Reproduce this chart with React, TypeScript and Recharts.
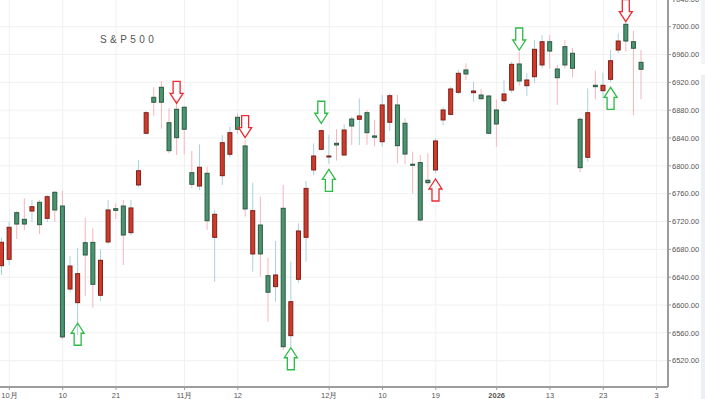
import React from 'react';
import { ComposedChart, Bar, XAxis, YAxis, CartesianGrid } from 'recharts';

// Trading days (last three are empty slots that extend the axis)
const dates = [
  '2025-09-30',
  '2025-10-01', '2025-10-02', '2025-10-03', '2025-10-06', '2025-10-07', '2025-10-08', '2025-10-09', '2025-10-10',
  '2025-10-13', '2025-10-14', '2025-10-15', '2025-10-16', '2025-10-17', '2025-10-20', '2025-10-21', '2025-10-22',
  '2025-10-23', '2025-10-24', '2025-10-27', '2025-10-28', '2025-10-29', '2025-10-30', '2025-10-31',
  '2025-11-03', '2025-11-04', '2025-11-05', '2025-11-06', '2025-11-07', '2025-11-10', '2025-11-11', '2025-11-12',
  '2025-11-13', '2025-11-14', '2025-11-17', '2025-11-18', '2025-11-19', '2025-11-20', '2025-11-21', '2025-11-24',
  '2025-11-25', '2025-11-26', '2025-11-28',
  '2025-12-01', '2025-12-02', '2025-12-03', '2025-12-04', '2025-12-05', '2025-12-08', '2025-12-09', '2025-12-10',
  '2025-12-11', '2025-12-12', '2025-12-15', '2025-12-16', '2025-12-17', '2025-12-18', '2025-12-19', '2025-12-22',
  '2025-12-23', '2025-12-24', '2025-12-26', '2025-12-29', '2025-12-30', '2025-12-31',
  '2026-01-02', '2026-01-05', '2026-01-06', '2026-01-07', '2026-01-08', '2026-01-09', '2026-01-12', '2026-01-13',
  '2026-01-14', '2026-01-15', '2026-01-16', '2026-01-20', '2026-01-21', '2026-01-22', '2026-01-23', '2026-01-26',
  '2026-01-27', '2026-01-28', '2026-01-29', '2026-01-30',
  '2026-02-02', '2026-02-03', '2026-02-04',
];

const opens = [
  6656.5,
  6665.7, 6732.7, 6723.2, 6735.1, 6747.6, 6724.6, 6762.0, 6742.3,
  6623.0, 6603.4, 6689.6, 6690.0, 6614.0, 6690.6, 6738.5, 6742.3,
  6704.0, 6772.5, 6846.8, 6898.5, 6912.9, 6862.0, 6881.3,
  6884.2, 6790.2, 6771.0, 6789.3, 6697.3, 6785.9, 6816.6, 6869.8,
  6828.6, 6673.4, 6715.0, 6642.2, 6626.4, 6739.0, 6556.0, 6637.0,
  6697.3, 6794.1, 6823.8,
  6813.2, 6832.4, 6815.6, 6867.3, 6866.9, 6876.4, 6843.0, 6834.7,
  6862.6, 6887.5, 6861.2, 6802.3, 6804.7, 6779.3, 6794.1, 6866.0,
  6874.0, 6905.7, 6937.8, 6905.2, 6901.8, 6900.4,
  6880.3, 6893.7, 6909.0, 6946.4, 6915.2, 6928.1, 6945.0, 6978.4,
  6939.2, 6971.3, 6961.8, 6866.9, 6812.3, 6915.8, 6908.0, 6924.4,
  6966.5, 7003.4, 6978.4, 6948.8,
];
const highs = [
  6697.0,
  6719.8, 6735.0, 6753.4, 6751.0, 6751.0, 6758.0, 6764.0, 6764.3,
  6670.5, 6682.4, 6725.5, 6710.3, 6680.0, 6751.0, 6746.0, 6751.0,
  6751.0, 6808.4, 6879.0, 6912.9, 6922.0, 6882.7, 6894.0,
  6886.0, 6821.4, 6831.0, 6798.8, 6736.6, 6844.4, 6856.3, 6875.5,
  6837.0, 6775.8, 6755.7, 6668.0, 6692.0, 6772.5, 6662.3, 6717.5,
  6778.3, 6832.4, 6852.0,
  6844.4, 6852.6, 6860.0, 6870.7, 6897.0, 6880.0, 6866.0, 6901.8,
  6904.0, 6901.8, 6868.8, 6820.4, 6815.6, 6818.1, 6840.0, 6884.0,
  6914.0, 6938.0, 6947.4, 6921.0, 6911.0, 6902.0,
  6895.6, 6923.4, 6949.7, 6964.0, 6933.0, 6980.9, 6988.0, 6988.0,
  6945.0, 6981.0, 6969.0, 6870.0, 6911.5, 6936.8, 6934.0, 6966.5,
  6990.5, 7007.0, 6994.0, 6966.5,
];
const lows = [
  6643.0,
  6657.5, 6694.9, 6707.7, 6718.9, 6702.0, 6718.9, 6719.8, 6551.0,
  6618.0, 6557.0, 6613.4, 6596.2, 6605.8, 6688.0, 6723.6, 6657.5,
  6700.0, 6770.0, 6845.0, 6872.0, 6853.4, 6818.0, 6815.6,
  6816.6, 6767.8, 6765.0, 6708.0, 6633.5, 6772.5, 6812.0, 6846.0,
  6727.0, 6647.9, 6640.7, 6576.0, 6604.8, 6535.4, 6540.0, 6632.1,
  6662.3, 6786.9, 6822.0,
  6802.7, 6807.6, 6814.0, 6830.0, 6830.0, 6830.0, 6828.0, 6827.5,
  6850.0, 6803.7, 6802.3, 6760.6, 6720.0, 6772.0, 6790.0, 6858.7,
  6872.0, 6903.0, 6923.4, 6892.2, 6895.0, 6846.0,
  6827.5, 6890.0, 6905.0, 6915.0, 6900.4, 6919.5, 6940.0, 6940.0,
  6887.5, 6940.0, 6927.3, 6790.7, 6806.0, 6895.6, 6897.0, 6920.0,
  6961.8, 6964.0, 6873.0, 6895.6,
];
const closes = [
  6690.2,
  6711.7, 6716.4, 6716.4, 6741.3, 6715.5, 6755.7, 6736.6, 6554.1,
  6656.1, 6645.1, 6671.9, 6629.8, 6664.3, 6736.6, 6736.0, 6700.6,
  6739.5, 6793.0, 6876.4, 6891.4, 6891.4, 6821.8, 6840.5,
  6852.6, 6773.5, 6798.0, 6721.2, 6730.4, 6833.3, 6847.7, 6852.6,
  6738.1, 6735.6, 6673.4, 6618.4, 6643.2, 6540.1, 6604.8, 6706.4,
  6767.6, 6814.2, 6850.6,
  6814.2, 6830.0, 6851.5, 6857.3, 6871.7, 6847.7, 6841.1, 6887.5,
  6900.8, 6829.0, 6817.0, 6801.2, 6722.2, 6775.8, 6835.8, 6880.3,
  6910.5, 6933.0, 6932.0, 6907.6, 6896.5, 6846.8,
  6860.2, 6903.3, 6945.9, 6922.0, 6923.4, 6967.5, 6978.4, 6965.0,
  6926.7, 6945.0, 6940.2, 6797.4, 6876.4, 6913.8, 6915.8, 6951.1,
  6979.4, 6979.4, 6969.0, 6938.8,
];

// Signal arrows: date, tip price, direction, colour
const arrowDates = ['2025-10-14', '2025-10-31', '2025-11-13', '2025-11-21', '2025-11-28', '2025-12-01', '2025-12-19', '2026-01-07', '2026-01-26', '2026-01-28'];
const arrowTips = [6573.8, 6889.9, 6840.5, 6538.6, 6861.2, 6795.0, 6781.1, 6966.5, 6912.9, 7007.2];
const arrowDirs = ['up', 'down', 'down', 'up', 'down', 'up', 'up', 'down', 'up', 'down'];
const arrowColors = ['green', 'red', 'red', 'green', 'green', 'green', 'red', 'green', 'green', 'red'];

const xTickLabels: Record<string, string> = {
  '2025-10-01': '10月',
  '2025-10-10': '10',
  '2025-10-21': '21',
  '2025-11-03': '11月',
  '2025-11-12': '12',
  '2025-12-01': '12月',
  '2025-12-10': '10',
  '2025-12-19': '19',
  '2026-01-02': '2026',
  '2026-01-13': '13',
  '2026-01-23': '23',
  '2026-02-03': '3',
};
const yTicks = [6520, 6560, 6600, 6640, 6680, 6720, 6760, 6800, 6840, 6880, 6920, 6960, 7000, 7040];

const RED_BODY = '#cf3b2b';
const RED_EDGE = '#7e1f17';
const GREEN_BODY = '#4a9470';
const GREEN_EDGE = '#2b5a41';
const RED_WICK = '#a9d3dc';
const GREEN_WICK = '#f5b5bd';
const ARROW_GREEN = '#2cbb45';
const ARROW_RED = '#ec2a2f';

const data = dates.map((d, i) => {
  if (i >= opens.length) return { date: d };
  const ai = arrowDates.indexOf(d);
  return {
    date: d,
    open: opens[i],
    high: highs[i],
    low: lows[i],
    close: closes[i],
    range: [lows[i], highs[i]],
    arrowTip: ai >= 0 ? arrowTips[ai] : null,
    arrowDir: ai >= 0 ? arrowDirs[ai] : null,
    arrowColor: ai >= 0 ? arrowColors[ai] : null,
  };
});

function Candle(props: any) {
  const { x, y, width, height, payload } = props;
  if (!payload || payload.open == null || height == null || isNaN(height)) return null;
  const { open, close, high, low } = payload;
  const k = height / (high - low);
  const yOf = (v: number) => y + (high - v) * k;
  const cx = x + width / 2;
  const up = close >= open;
  const top = yOf(Math.max(open, close));
  const bot = yOf(Math.min(open, close));
  const bh = Math.max(bot - top, 1);
  let arrow = null;
  if (payload.arrowTip != null) {
    const yt = yOf(payload.arrowTip);
    const s = payload.arrowDir === 'down' ? -1 : 1;
    const hw = 6.5, sw = 3.5, hh = 10, len = 22;
    const d = `M${cx},${yt} L${cx - hw},${yt + s * hh} L${cx - sw},${yt + s * hh} L${cx - sw},${yt + s * len} L${cx + sw},${yt + s * len} L${cx + sw},${yt + s * hh} L${cx + hw},${yt + s * hh} Z`;
    arrow = <path d={d} fill="none" stroke={payload.arrowColor === 'red' ? ARROW_RED : ARROW_GREEN} strokeWidth={1.3} strokeLinejoin="miter" />;
  }
  return (
    <g>
      <line x1={cx} x2={cx} y1={y} y2={y + height} stroke={up ? RED_WICK : GREEN_WICK} strokeWidth={1} />
      <rect x={x + 0.5} y={top} width={width - 1} height={bh} fill={up ? RED_BODY : GREEN_BODY} stroke={up ? RED_EDGE : GREEN_EDGE} strokeWidth={1} />
      {arrow}
    </g>
  );
}

function XTick(props: any) {
  const { x, y, payload } = props;
  const label = xTickLabels[payload.value];
  if (!label) return null;
  return (
    <text x={x} y={y} dy={5.5} textAnchor="middle" fontSize={7.5} fill="#555" fontWeight={label === '2026' ? 'bold' : 'normal'} fontFamily="'Liberation Sans', Arial, sans-serif">
      {label}
    </text>
  );
}

export default function App() {
  return (
    <div style={{ position: 'fixed', left: 0, top: 0, width: 705, height: 399, overflow: 'hidden', background: '#fff' }}>
      <div style={{ position: 'absolute', left: -2, top: -4 }}>
        <ComposedChart width={707} height={403} data={data} margin={{ top: 0, right: 0, bottom: 0, left: 0 }} barCategoryGap={0}>
          <CartesianGrid stroke="#f0f0f0" />
          <XAxis
            dataKey="date"
            ticks={Object.keys(xTickLabels)}
            interval={0}
            tick={<XTick />}
            tickSize={3}
            height={12}
            axisLine={{ stroke: '#9c9c9c', strokeWidth: 2 }}
            tickLine={{ stroke: '#9c9c9c' }}
          />
          <YAxis
            orientation="right"
            width={37}
            domain={[6482.2, 7044.1]}
            allowDataOverflow
            ticks={yTicks}
            interval={0}
            tickFormatter={(v: number) => v.toFixed(2)}
            tick={{ fontSize: 7.5, fill: '#555', fontFamily: "'Liberation Sans', Arial, sans-serif" }}
            tickSize={3}
            tickMargin={1}
            axisLine={{ stroke: '#9c9c9c', strokeWidth: 2 }}
            tickLine={{ stroke: '#9c9c9c' }}
          />
          <Bar dataKey="range" barSize={5} shape={<Candle />} isAnimationActive={false} />
        </ComposedChart>
      </div>
      <div style={{ position: 'absolute', left: 701, top: 0, width: 4, height: 64, background: '#f1f3f6' }} />
      <div style={{ position: 'absolute', left: 701, top: 75, width: 4, height: 324, background: '#eceff3' }} />
      <div style={{ position: 'absolute', left: 100, top: 34, fontSize: 10, letterSpacing: 3.4, color: '#555', fontFamily: "'Liberation Sans', Arial, sans-serif" }}>
        S&amp;P500
      </div>
    </div>
  );
}
